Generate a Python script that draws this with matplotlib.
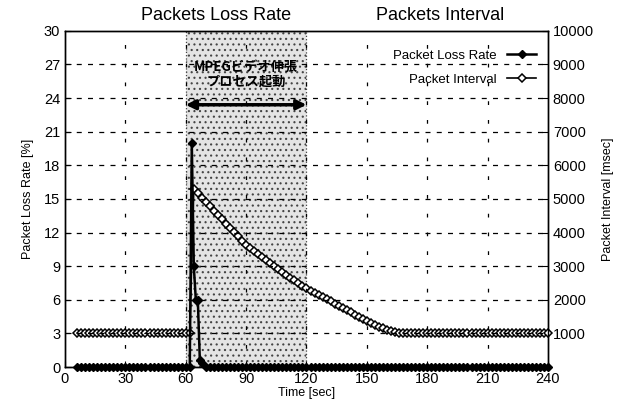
import matplotlib
matplotlib.use("Agg")
import matplotlib.pyplot as plt

plt.rcParams['font.family'] = ['Liberation Sans', 'Noto Sans CJK JP', 'DejaVu Sans']
plt.rcParams['hatch.color'] = '#777777'
plt.rcParams['hatch.linewidth'] = 0.8

# ---- data ----
loss_time = [6, 8, 10, 12, 14, 16, 18, 20, 22, 24, 26, 28, 30, 32, 34, 36, 38, 40, 42, 44,
             46, 48, 50, 52, 54, 56, 58, 60, 62, 63, 64, 65, 66, 67, 68,
             70, 72, 74, 76, 78, 80, 82, 84, 86, 88, 90, 92, 94, 96, 98, 100, 102, 104, 106,
             108, 110, 112, 114, 116, 118, 120, 122, 124, 126, 128, 130, 132, 134, 136, 138,
             140, 142, 144, 146, 148, 150, 152, 154, 156, 158, 160, 162, 164, 166, 168, 170,
             172, 174, 176, 178, 180, 182, 184, 186, 188, 190, 192, 194, 196, 198, 200, 202,
             204, 206, 208, 210, 212, 214, 216, 218, 220, 222, 224, 226, 228, 230, 232, 234,
             236, 238, 240]
loss_rate = [0, 0, 0, 0, 0, 0, 0, 0, 0, 0, 0, 0, 0, 0, 0, 0, 0, 0, 0, 0,
             0, 0, 0, 0, 0, 0, 0, 0, 0, 20.0, 9.0, 6.0, 6.0, 0.6, 0.4,
             0, 0, 0, 0, 0, 0, 0, 0, 0, 0, 0, 0, 0, 0, 0, 0, 0, 0, 0,
             0, 0, 0, 0, 0, 0, 0, 0, 0, 0, 0, 0, 0, 0, 0, 0,
             0, 0, 0, 0, 0, 0, 0, 0, 0, 0, 0, 0, 0, 0, 0, 0,
             0, 0, 0, 0, 0, 0, 0, 0, 0, 0, 0, 0, 0, 0, 0, 0,
             0, 0, 0, 0, 0, 0, 0, 0, 0, 0, 0, 0, 0, 0, 0, 0,
             0, 0, 0]

interval_time = [6, 8, 10, 12, 14, 16, 18, 20, 22, 24, 26, 28, 30, 32, 34, 36, 38, 40, 42, 44,
                 46, 48, 50, 52, 54, 56, 58, 60, 62, 64, 66, 68, 70, 72, 74, 76, 78, 80, 82,
                 84, 86, 88, 90, 92, 94, 96, 98, 100, 102, 104, 106, 108, 110, 112, 114, 116,
                 118, 120, 122, 124, 126, 128, 130, 132, 134, 136, 138, 140, 142, 144, 146, 148,
                 150, 152, 154, 156, 158, 160, 162, 164, 166, 168, 170, 172, 174, 176, 178, 180,
                 182, 184, 186, 188, 190, 192, 194, 196, 198, 200, 202, 204, 206, 208, 210, 212,
                 214, 216, 218, 220, 222, 224, 226, 228, 230, 232, 234, 236, 238, 240]
interval_ms = [1000, 1000, 1000, 1000, 1000, 1000, 1000, 1000, 1000, 1000, 1000, 1000, 1000,
               1000, 1000, 1000, 1000, 1000, 1000, 1000, 1000, 1000, 1000, 1000, 1000, 1000,
               1000, 1000, 1000, 5300, 5170, 5040, 4910, 4780, 4650, 4520, 4390, 4260, 4130,
               4010, 3890, 3760, 3640, 3540, 3450, 3360, 3270, 3180, 3090, 3000, 2915, 2830,
               2745, 2660, 2580, 2500, 2420, 2340, 2275, 2210, 2145, 2080, 2015, 1950, 1885,
               1820, 1755, 1690, 1625, 1560, 1500, 1440, 1380, 1320, 1260, 1200, 1150, 1100,
               1060, 1030, 1010, 1000, 1000, 1000, 1000, 1000, 1000, 1000, 1000, 1000, 1000,
               1000, 1000, 1000, 1000, 1000, 1000, 1000, 1000, 1000, 1000, 1000, 1000, 1000,
               1000, 1000, 1000, 1000, 1000, 1000, 1000, 1000, 1000, 1000, 1000, 1000, 1000,
               1000]

x_ticks = [0, 30, 60, 90, 120, 150, 180, 210, 240]
left_ticks = [0, 3, 6, 9, 12, 15, 18, 21, 24, 27, 30]
right_ticks = [1000, 2000, 3000, 4000, 5000, 6000, 7000, 8000, 9000, 10000]
event_span = [60, 120]
event_label = "MPEGビデオ伸張\nプロセス起動"

# ---- figure ----
fig = plt.figure(figsize=(6.28, 4.05), dpi=100)
ax = fig.add_axes([0.1035, 0.0938, 0.7691, 0.8302])
ax2 = ax.twinx()

ax.set_xlim(0, 240)
ax.set_ylim(0, 30)
ax2.set_ylim(0, 10000)

# shaded event region (on the lower axes so both lines stay visible)
ax2.axvspan(event_span[0], event_span[1], facecolor='#e4e4e4', edgecolor='#444444',
            hatch='...', linewidth=0.9, linestyle=':', zorder=0)

# grid
for yv in left_ticks[1:-1]:
    ax.axhline(yv, color='black', linestyle=(0, (4, 5)), linewidth=0.9, zorder=1)
for xv in x_ticks[1:-1]:
    ax.axvline(xv, color='black', linestyle=(0, (3, 12)), linewidth=0.9, zorder=1)

ln1, = ax.plot(loss_time, loss_rate, color='black', linewidth=1.8, marker='D',
               markersize=4.5, markerfacecolor='black', zorder=4,
               label='Packet Loss Rate', clip_on=False)
ln2, = ax2.plot(interval_time, interval_ms, color='black', linewidth=1.2, marker='D',
                markersize=4.0, markerfacecolor='white', markeredgewidth=1.1, zorder=3,
                label='Packet Interval', clip_on=False)
ax.set_zorder(ax2.get_zorder() + 1)
ax.patch.set_visible(False)

# arrow and annotation
ax.annotate('', xy=(event_span[0], 23.4), xytext=(event_span[1], 23.4),
            arrowprops=dict(arrowstyle='<|-|>', color='black', lw=2.5,
                            mutation_scale=14, shrinkA=0, shrinkB=0), zorder=5)
ax.text(90, 26.1, event_label, ha='center', va='center', fontsize=9.5,
        fontweight='bold', family=['Noto Sans CJK JP', 'DejaVu Sans'],
        linespacing=1.05, zorder=6)

# ticks
ax.set_xticks(x_ticks)
ax.set_yticks(left_ticks)
ax2.set_yticks(right_ticks)
ax.tick_params(direction='in', labelsize=10.5, length=4, top=False)
ax2.tick_params(direction='in', labelsize=10.5, length=4)
ax.set_xlabel('Time [sec]', fontsize=9, labelpad=1)
ax.set_ylabel('Packet Loss Rate [%]', fontsize=9, labelpad=7)
ax2.set_ylabel('Packet Interval [msec]', fontsize=9, labelpad=6)

for a in (ax, ax2):
    for s in a.spines.values():
        s.set_linewidth(1.0)

# titles
fig.text(216 / 628, 1 - 16 / 405, 'Packets Loss Rate', ha='center', va='center', fontsize=13)
fig.text(440 / 628, 1 - 16 / 405, 'Packets Interval', ha='center', va='center', fontsize=13)

# legend
leg = ax.legend(handles=[ln1, ln2], loc='upper right', frameon=False, markerfirst=False,
                numpoints=1, fontsize=9.5, handlelength=2.2, labelspacing=0.9,
                bbox_to_anchor=(1.0, 0.98))

fig.savefig('out.png', dpi=100)
